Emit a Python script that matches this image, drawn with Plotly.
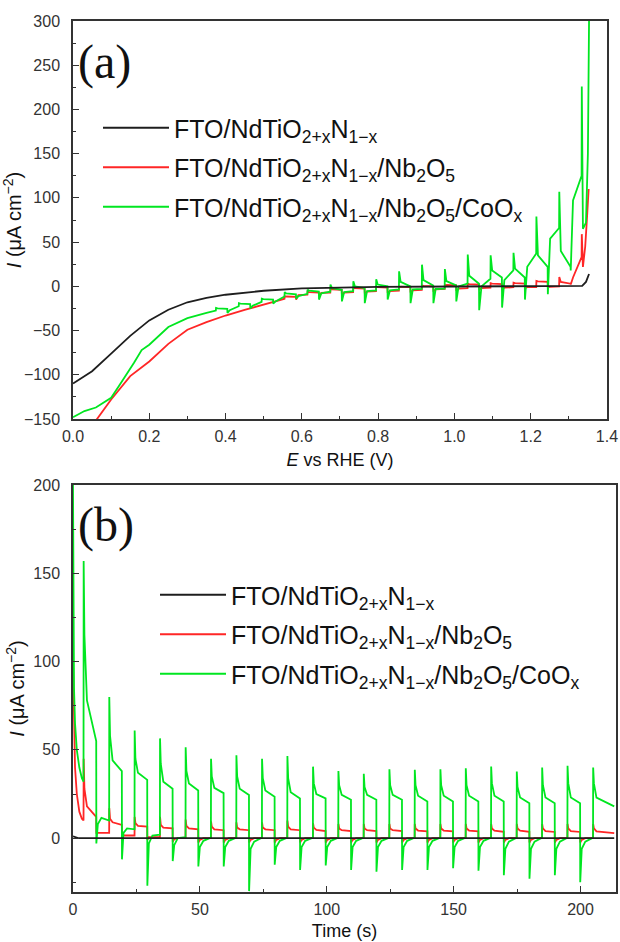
import plotly.graph_objects as go

# ================= Panel (a): chopped-light LSV =================
# smooth (dark-dominated) parts
Ea_black = [0.0, 0.05, 0.1, 0.15, 0.2, 0.25, 0.3, 0.35, 0.4, 0.5, 0.6, 0.7, 0.8, 1.0, 1.2, 1.3, 1.335, 1.345, 1.353]
Ia_black = [-110, -96, -76, -56, -38.5, -26.5, -18, -13, -9.5, -5, -2.3, -1.2, -0.6, -0.2, 0, 0, 0.5, 5, 14]

Ea_red_base = [0.058, 0.1, 0.15, 0.2, 0.25, 0.3, 0.35, 0.4, 0.45, 0.5, 0.54]
Ia_red_base = [-153, -128, -101.5, -85, -65, -49, -40.5, -33, -26.5, -21, -16]

Ea_green_base = [0.0, 0.03, 0.06, 0.08, 0.1, 0.12, 0.14, 0.16, 0.18, 0.2, 0.25, 0.3, 0.35]
Ia_green_base = [-148, -141, -137, -131, -126, -113, -100, -86.5, -72, -66, -46, -36, -30]

# light-on potentials of the chopping cycles
Ea_on = [0.375, 0.435, 0.495, 0.555, 0.615, 0.675, 0.735, 0.795, 0.855, 0.915,
         0.975, 1.035, 1.095, 1.155, 1.215, 1.275]
# green (CoOx) transients per cycle
ga_pre = [-27.5, -22.5, -17.5, -11.5, -8.5, -6, -5.5, -4.5, -3.5, -3, -2.5, 3, 8.6, 18, 37, 66]
ga_peak = [-24.5, -19, -14, -6.5, -3.8, 2, 5.6, 8, 17, 24.5, 19.6, 36, 35, 38, 79, 107]
ga_knee = [-25, -19.5, -14.5, -8, -5, -2, 0, 2, 5, 7, 6, 12, 18, 20, 35, 40]
ga_plat = [-25.5, -20, -15, -9, -6, -4, -2, 0, 0, 1, 1, 3, 10, 10, 22, 22]
ga_down = [-30, -25, -19.5, -14, -15, -17, -19, -15, -19, -19, -17, -27, -24, -15, -9, 18]
ga_rec = [-27, -22, -17, -11, -8, -6.5, -5.5, -4.5, -3.5, -3, 0, 0, 7, 22, 54, 97]
Ea_green_end = [1.3335, 1.334, 1.337, 1.345, 1.350, 1.353]
Ia_green_end = [125, 226, 65, 72, 150, 300]
# red (Nb2O5) transients per cycle (cycles 3..15)
ra_pre = [-14, -9.5, -7, -6.5, -5.5, -5, -4, -3, -2, -1.5, -1, -1, 0]
ra_peak = [-11, -6, -3, -1.5, -0.5, 0, 1, 2, 3, 3.5, 4, 6, 10.5]
ra_knee = [-11.5, -6.5, -3.5, -2, -1, -0.5, 0.5, 1.5, 2.5, 3, 3.5, 5.5, 5]
ra_plat = [-12, -7, -4, -2.5, -1.5, -1, 0, 1, 2, 2.5, 3, 5, 3]
ra_down = [-15, -11, -9.5, -8, -7.5, -7, -6, -5, -4, -3, -2, -1, 2]
ra_rec = [-10, -7.5, -7, -6, -5.5, -4.5, -3.5, -2.5, -2, -1.5, -1, -0.5, 10]
Ea_red_end = [1.3335, 1.334, 1.337, 1.343, 1.348, 1.352]
Ia_red_end = [33, 59, 22, 45, 80, 110]

# ================= Panel (b): chopped-light chronoamperometry =================
tb_on = [4.2, 14.3, 24.3, 34.3, 44.4, 54.4, 64.4, 74.5, 84.5, 94.6, 104.6,
         114.6, 124.7, 134.7, 144.8, 154.8, 164.8, 174.9, 184.9, 194.9, 205.0]
tb_end = 213.3

tb_black = [0, 2, 213.3]
Ib_black = [1, 0, 0]

tb_green_start = [0, 0.15, 0.4, 0.8, 1.5, 2.5, 3.5]
Ib_green_start = [200, 120, 85, 65, 50, 40, 34]
gb_pre = [32, 10, 5, 2, 0.5, 0.3, 0.3, 0.3, 0.3, 0.3, 0.3, 0.3, 0.3, 0.3, 0.3, 0.3, 0.3, 0.3, 0.3, 0.3, 0.3]
gb_peak = [157, 80, 61, 56.5, 51.5, 45, 47, 45, 46.5, 40.5, 38, 36.5, 39, 38.7, 39, 39.6, 40.6, 37.7, 40, 41, 40]
gb_mid = [115, 58, 45, 42, 38, 35, 35, 34, 34, 31, 30, 29, 30, 30, 30, 30, 31, 29, 30, 31, 31]
gb_knee = [78, 44, 37, 32, 31, 28.5, 28, 27, 26, 25, 24.5, 24.5, 24.5, 24, 24, 24, 24, 23, 23, 23, 23]
gb_plat = [55, 38, 33, 28, 27, 25.5, 24.5, 23.5, 22.5, 22.5, 21.7, 21.7, 21.7, 20.8, 20.8, 20.8, 20.8, 19.8, 19.8, 19.8, 18]
gb_down = [-3, -12, -27, -13, -16, -16, -30, -15, -18, -15.5, -18, -19, -18, -18, -17, -18.5, -21, -23, -21, -25]
gb_rec = [8, 3, -3, -4, -5, -5, -6, -5, -5, -5, -5, -5, -5, -5, -5, -5, -6, -6, -6, -6]
gb_rec2 = [11.5, 5.5, 1.5, 0, -1.5, -1.5, -2, -1.5, -1.5, -1.5, -1.5, -1.5, -1.5, -1.5, -1.5, -1.5, -2, -2, -2, -2]

tb_red_start = [0, 0.3, 0.8, 1.5, 2.5, 3.5]
Ib_red_start = [100, 65, 40, 25, 15, 11]
rb_pre = [10, 3, 1.5, 0.5, 0, 0, 0, 0, 0, 0, 0, 0, 0, 0, 0, 0, 0, 0, 0, 0, 0]
rb_peak = [45, 17, 12, 12, 10.5, 9.5, 9, 9, 10, 8.5, 8, 8, 8, 8, 8, 8, 8, 8, 8, 8, 8]
rb_mid = [28, 11, 8.5, 7.5, 7, 6.5, 6, 6, 6.5, 6, 5.5, 5.5, 5.5, 5.5, 5.5, 5.5, 5.5, 5.5, 5.5, 5.5, 5.5]
rb_knee = [18, 9, 7, 6, 5.5, 5, 5, 5, 5, 4.7, 4.5, 4.5, 4.5, 4.3, 4.3, 4.3, 4.2, 4.2, 4, 4, 3.8]
rb_plat = [12, 7.5, 6.5, 5.5, 5, 4.5, 4.5, 4.5, 4.5, 4, 4, 4, 4, 3.8, 3.8, 3.8, 3.6, 3.6, 3.5, 3.5, 2.8]
rb_down = [3, 1, -1, -2, -2.5, -2.5, -2.5, -2.5, -2.5, -2.5, -2.5, -2.5, -2.5, -2.5, -2.5, -2.5, -2.5, -2.5, -2.5, -2.5]
rb_rec = [3, 1.5, 0.5, -0.5, -1, -1, -1, -1, -1, -1, -1, -1, -1, -1, -1, -1, -1, -1, -1, -1]
rb_rec2 = [3, 1.5, 0.5, 0, 0, 0, 0, 0, 0, 0, 0, 0, 0, 0, 0, 0, 0, 0, 0, 0]

names = ["FTO/NdTiO<sub>2+x</sub>N<sub>1\u2212x</sub>",
         "FTO/NdTiO<sub>2+x</sub>N<sub>1\u2212x</sub>/Nb<sub>2</sub>O<sub>5</sub>",
         "FTO/NdTiO<sub>2+x</sub>N<sub>1\u2212x</sub>/Nb<sub>2</sub>O<sub>5</sub>/CoO<sub>x</sub>"]
colors = ["#1e1e1e", "#ff2626", "#00e620"]


def chop_lsv(on, pre, peak, knee, plat, down, rec, half=0.03):
    xs, ys = [], []
    for k in range(len(on)):
        xs += [on[k] - 0.0005, on[k], on[k] + 0.004, on[k] + half - 0.0005, on[k] + half, on[k] + half + 0.006]
        ys += [pre[k], peak[k], knee[k], plat[k], down[k], rec[k]]
    return xs, ys


def chop_ca(on, pre, peak, mid, knee, plat, down, rec, rec2, t_end, half=5.0):
    xs, ys = [], []
    n = len(on)
    for k in range(n):
        last = (k == n - 1)
        xs += [on[k] - 0.05, on[k], on[k] + 0.3, on[k] + 1.3]
        ys += [pre[k], peak[k], mid[k], knee[k]]
        if last:
            xs += [t_end]
            ys += [plat[k]]
        else:
            xs += [on[k] + half - 0.05, on[k] + half, on[k] + half + 0.6, on[k] + half + 2.0]
            ys += [plat[k], down[k], rec[k], rec2[k]]
    return xs, ys


# assemble panel (a)
gx, gy = chop_lsv(Ea_on, ga_pre, ga_peak, ga_knee, ga_plat, ga_down, ga_rec)
Ea_green = Ea_green_base + gx + Ea_green_end
Ia_green = Ia_green_base + gy + Ia_green_end
rx, ry = chop_lsv(Ea_on[3:], ra_pre, ra_peak, ra_knee, ra_plat, ra_down, ra_rec)
Ea_red = Ea_red_base + rx + Ea_red_end
Ia_red = Ia_red_base + ry + Ia_red_end

# assemble panel (b)
gbx, gby = chop_ca(tb_on, gb_pre, gb_peak, gb_mid, gb_knee, gb_plat, gb_down, gb_rec, gb_rec2, tb_end)
tb_green = tb_green_start + gbx
Ib_green = Ib_green_start + gby
rbx, rby = chop_ca(tb_on, rb_pre, rb_peak, rb_mid, rb_knee, rb_plat, rb_down, rb_rec, rb_rec2, tb_end)
tb_red = tb_red_start + rbx
Ib_red = Ib_red_start + rby

fig = go.Figure()
LW = 1.8
series_a = [(Ea_black, Ia_black), (Ea_red, Ia_red), (Ea_green, Ia_green)]
series_b = [(tb_black, Ib_black), (tb_red, Ib_red), (tb_green, Ib_green)]
draw_order = [1, 2, 0]
for i in draw_order:
    x, y = series_a[i]
    fig.add_trace(go.Scatter(x=x, y=y, mode="lines", name=names[i],
                             line=dict(color=colors[i], width=LW),
                             legend="legend", legendgroup="a%d" % i, legendrank=i + 1,
                             xaxis="x", yaxis="y"))
for i in draw_order:
    x, y = series_b[i]
    fig.add_trace(go.Scatter(x=x, y=y, mode="lines", name=names[i],
                             line=dict(color=colors[i], width=LW),
                             legend="legend2", legendgroup="b%d" % i, legendrank=i + 1,
                             xaxis="x2", yaxis="y2"))

AX = "#333333"
FAM = "Liberation Sans, Arial, sans-serif"
tickfont = dict(family=FAM, size=16, color="#333333")
titlefont = dict(family=FAM, size=18, color="#111111")
ytitlefont = dict(family=FAM, size=20, color="#111111")
common = dict(showline=True, linecolor=AX, linewidth=1.5, mirror=True, ticks="inside",
              ticklen=6, tickwidth=1.2, tickcolor=AX, showgrid=False, zeroline=False,
              tickfont=tickfont, automargin=False)
legfont = dict(family=FAM, size=25, color="#111111")

W, H = 620, 942
fig.update_layout(
    template="none",
    width=W, height=H, autosize=False,
    margin=dict(l=0, r=0, t=0, b=0, autoexpand=False),
    paper_bgcolor="white", plot_bgcolor="white",
    font=dict(family=FAM, color="#111111"),
    xaxis=dict(domain=[73 / W, 607 / W], range=[0, 1.4001], dtick=0.2, tick0=0,
               tickformat=".1f", anchor="y", ticklabelstandoff=2,
               minor=dict(dtick=0.1, ticks="inside", ticklen=3.5, tickcolor=AX),
               title=dict(text="<i>E</i> vs RHE (V)", font=titlefont, standoff=9),
               **common),
    yaxis=dict(domain=[1 - 419 / H, 1 - 21 / H], range=[-150.01, 300.01], dtick=50, tick0=0,
               anchor="x", ticklabelstandoff=8,
               minor=dict(dtick=25, ticks="inside", ticklen=3.5, tickcolor=AX),
               title=dict(text="<i>I</i> (\u03bcA cm<sup>\u22122</sup>)", font=ytitlefont, standoff=3),
               **common),
    xaxis2=dict(domain=[73 / W, 616 / W], range=[0, 214], dtick=50, tick0=0, anchor="y2",
                ticklabelstandoff=2,
                minor=dict(dtick=25, ticks="inside", ticklen=3.5, tickcolor=AX),
                title=dict(text="Time (s)", font=titlefont, standoff=7),
                **common),
    yaxis2=dict(domain=[1 - 892 / H, 1 - 485 / H], range=[-30.5, 200.01], dtick=50, tick0=0,
                anchor="x2", ticklabelstandoff=8,
                minor=dict(dtick=25, ticks="inside", ticklen=3.5, tickcolor=AX),
                title=dict(text="<i>I</i> (\u03bcA cm<sup>\u22122</sup>)", font=ytitlefont, standoff=3),
                **common),
    legend=dict(x=98 / W, y=1 - 105 / H, xanchor="left", yanchor="top",
                bgcolor="rgba(0,0,0,0)", borderwidth=0, itemwidth=66,
                tracegroupgap=4, font=legfont),
    legend2=dict(x=155 / W, y=1 - 572 / H, xanchor="left", yanchor="top",
                 bgcolor="rgba(0,0,0,0)", borderwidth=0, itemwidth=66,
                 tracegroupgap=4, font=legfont),
    showlegend=True,
)

labfont = dict(family="Liberation Serif, Times New Roman, serif", size=48, color="#111111")
fig.add_annotation(text="(a)", x=76 / W, y=1 - 62 / H, xref="paper", yref="paper",
                   xanchor="left", yanchor="middle", showarrow=False, font=labfont)
fig.add_annotation(text="(b)", x=76 / W, y=1 - 525 / H, xref="paper", yref="paper",
                   xanchor="left", yanchor="middle", showarrow=False, font=labfont)

fig.write_html("out.html")
